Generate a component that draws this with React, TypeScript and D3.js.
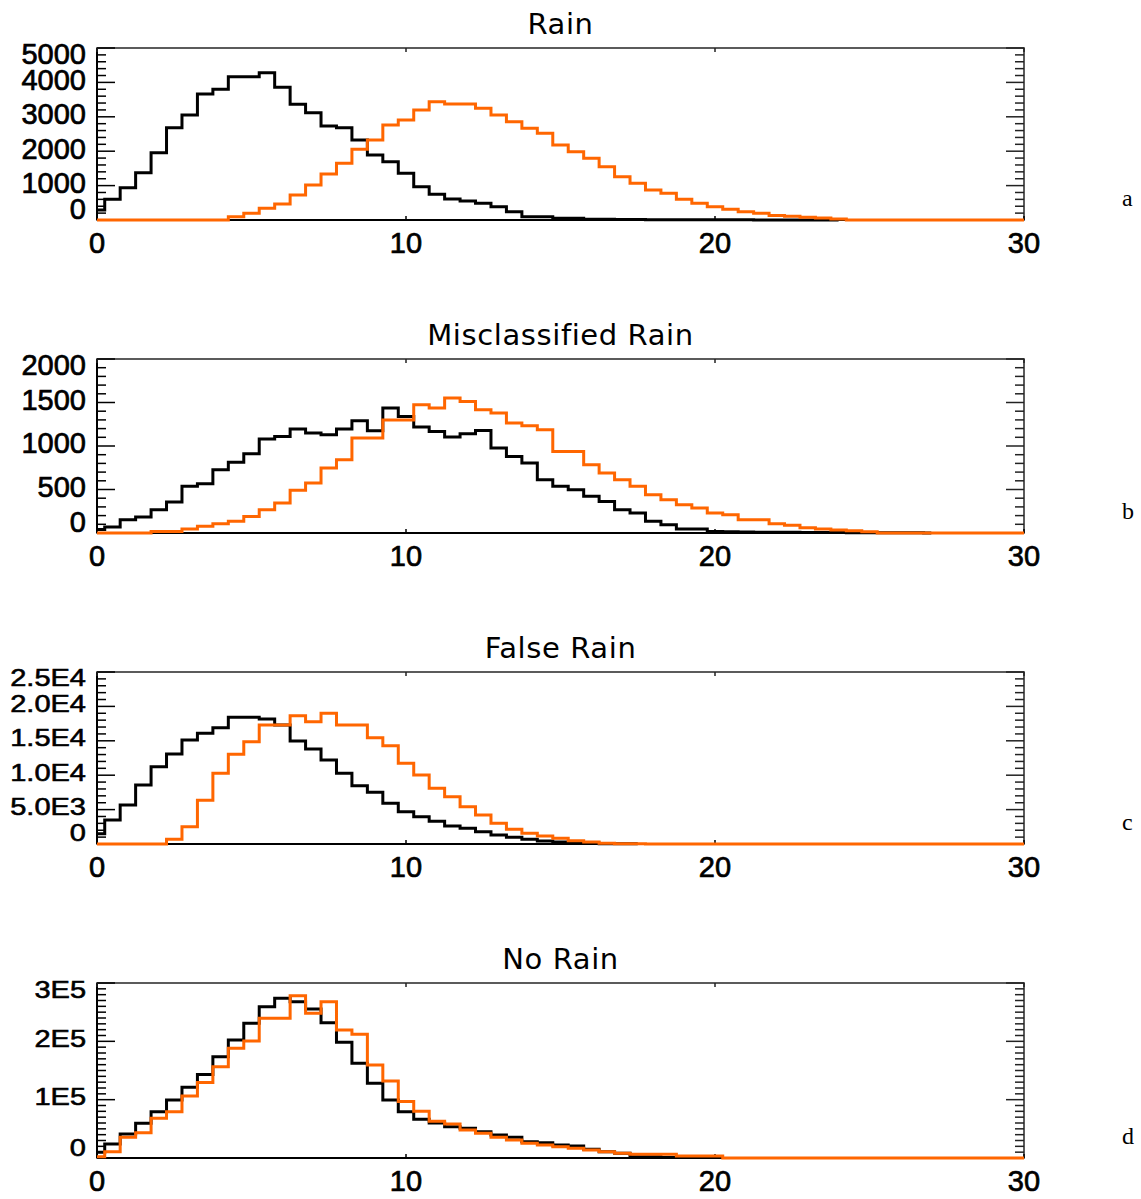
import React from 'react';
import * as d3 from 'd3';

// histogram bins are 0.5 wide, centred on 0, 0.5, 1.0 ...
const BIN_WIDTH = 0.5;

const panelTitles = ['Rain', 'Misclassified Rain', 'False Rain', 'No Rain'];
const panelLetters = ['a', 'b', 'c', 'd'];
const xTicks = [0, 10, 20, 30];

// black = reference, orange = retrieved
const rainBlack = [
  290, 600, 940, 1375, 1957, 2684, 3052, 3663, 3800, 4166, 4166, 4283, 3857, 3362, 3120, 2733,
  2684, 2326, 1890, 1695, 1357, 969, 746, 610, 552, 484, 388, 242, 97, 97, 48, 48,
  25, 20, 15, 12, 10, 8, 6, 5, 5, 4, 4, 3, 3, 2, 2, 2, 1,
];
const rainOrange = [
  0, 0, 0, 0, 0, 0, 0, 0, 0, 97, 194, 339, 465, 727, 1017, 1337,
  1647, 2054, 2326, 2762, 2907, 3198, 3440, 3372, 3372, 3246, 3052, 2858, 2665, 2520, 2180, 1986,
  1793, 1550, 1259, 1066, 872, 776, 601, 484, 388, 310, 242, 194, 130, 110, 80, 60,
  30, 0, 0, 0, 0, 0, 0, 0, 0, 0, 0, 0, 0,
];

const misBlack = [
  40, 69, 153, 184, 268, 356, 536, 567, 728, 812, 911, 1080, 1110, 1195, 1149, 1130,
  1195, 1290, 1175, 1436, 1340, 1218, 1168, 1103, 1141, 1179, 977, 880, 804, 612, 536, 498,
  421, 363, 268, 230, 134, 96, 46, 46, 18, 15, 12, 10, 8, 8, 6, 5,
  5, 4, 3, 3, 2, 2, 1,
];
const misOrange = [
  0, 0, 0, 0, 18, 18, 46, 77, 107, 134, 191, 268, 345, 490, 574, 747,
  842, 1091, 1091, 1300, 1300, 1474, 1436, 1551, 1512, 1417, 1379, 1264, 1233, 1187, 938, 938,
  785, 689, 612, 536, 440, 383, 325, 287, 230, 210, 153, 153, 107, 90, 60, 45,
  35, 25, 15, 0, 0, 0, 0, 0, 0, 0, 0, 0, 0,
];

const falseBlack = [
  1500, 3490, 5670, 8580, 11240, 13080, 15120, 16090, 16905, 18410, 18410, 18170, 17300, 14970, 13810, 12210,
  10270, 8480, 7510, 5910, 4700, 3970, 3300, 2616, 2277, 1793, 1308, 969, 678, 436, 290, 100,
  100, 50, 50, 20,
];
const falseOrange = [
  0, 0, 0, 0, 0, 680, 2520, 6350, 10270, 13030, 14870, 17300, 17300, 18650, 17780, 19000,
  17300, 17300, 15450, 14290, 11730, 10030, 8090, 6880, 5430, 4215, 3000, 2130, 1550, 1163, 824, 484,
  290, 100, 50, 50, 0, 0, 0, 0, 0, 0, 0, 0, 0, 0, 0, 0,
  0, 0, 0, 0, 0, 0, 0, 0, 0, 0, 0, 0, 0,
];

const noBlack = [
  10000, 24000, 41100, 59400, 79400, 99400, 121200, 143000, 173700, 202300, 230900, 259400, 273800, 268000, 255400, 232000,
  198300, 162300, 128000, 99400, 79400, 66300, 60000, 53700, 50900, 45100, 39400, 35400, 28000, 26300, 22300, 20600,
  14900, 10900, 8000, 2300, 2300, 1000, 1000, 1000, 1000,
];
const noOrange = [
  2000, 10800, 35400, 43400, 68000, 79400, 106300, 129400, 156600, 188000, 200600, 239400, 239400, 278300, 248000, 268000,
  219400, 212000, 159400, 132000, 97000, 80000, 63000, 58300, 48000, 42300, 35400, 30900, 25100, 22300, 19400, 16600,
  13700, 10800, 8000, 6300, 6300, 6300, 3400, 3400, 3400, 0, 0, 0, 0, 0, 0, 0,
  0, 0, 0, 0, 0, 0, 0, 0, 0, 0, 0, 0, 0,
];

const blackSeries = [rainBlack, misBlack, falseBlack, noBlack];
const orangeSeries = [rainOrange, misOrange, falseOrange, noOrange];

const yMaxes = [5000, 2000, 25000, 300000];
const yMajorSteps = [1000, 500, 5000, 100000];
const yMinorSteps = [200, 100, 1000, 10000];
const yTickLabels = [
  ['0', '1000', '2000', '3000', '4000', '5000'],
  ['0', '500', '1000', '1500', '2000'],
  ['0', '5.0E3', '1.0E4', '1.5E4', '2.0E4', '2.5E4'],
  ['0', '1E5', '2E5', '3E5'],
];

// layout
const WIDTH = 1141;
const HEIGHT = 1199;
const X_LEFT = 97;
const X_RIGHT = 1024;
const panelTops = [48, 359, 672, 983];
const panelHeights = [172, 174, 172, 175];
const labelScaleY = [1, 1, 0.8, 0.82];
const ORANGE = '#ff6600';
const NUM_FONT = '"Liberation Sans", Arial, sans-serif';
const TITLE_FONT = '"DejaVu Sans", Verdana, sans-serif';

const Panel = ({ index }: { index: number }) => {
  const top = panelTops[index];
  const bottom = top + panelHeights[index];
  const yMax = yMaxes[index];

  const x = d3.scaleLinear().domain([0, 30]).range([X_LEFT, X_RIGHT]);
  const y = d3.scaleLinear().domain([0, yMax]).range([bottom, top]);

  const line = d3
    .line<number>()
    .x((d, i) => x(i * BIN_WIDTH))
    .y((d) => y(d))
    .curve(d3.curveStep);

  const majors = d3.range(0, yMax + 1e-6, yMajorSteps[index]);
  const minors = d3
    .range(0, yMax + 1e-6, yMinorSteps[index])
    .filter((v) => Math.abs(v / yMajorSteps[index] - Math.round(v / yMajorSteps[index])) > 1e-6);

  const labels = yTickLabels[index];
  const sy = labelScaleY[index];

  return (
    <g>
      <text
        x={(X_LEFT + X_RIGHT) / 2}
        y={top - 14}
        textAnchor="middle"
        fontFamily={TITLE_FONT}
        fontSize={29}
        letterSpacing={0.6}
        fill="#000"
      >
        {panelTitles[index]}
      </text>

      {/* frame */}
      <rect x={X_LEFT} y={top} width={X_RIGHT - X_LEFT} height={bottom - top} fill="none" stroke="#333" strokeWidth={1.6} />
      <line x1={X_LEFT} x2={X_LEFT} y1={top} y2={bottom} stroke="#000" strokeWidth={2} />
      <line x1={X_LEFT} x2={X_RIGHT} y1={bottom} y2={bottom} stroke="#000" strokeWidth={2} />

      {/* y ticks, both sides */}
      {minors.map((v) => (
        <g key={'mi' + v}>
          <line x1={X_LEFT} x2={X_LEFT + 9} y1={y(v)} y2={y(v)} stroke="#000" strokeWidth={1.5} />
          <line x1={X_RIGHT} x2={X_RIGHT - 9} y1={y(v)} y2={y(v)} stroke="#222" strokeWidth={1.5} />
        </g>
      ))}
      {majors.map((v) => (
        <g key={'ma' + v}>
          <line x1={X_LEFT} x2={X_LEFT + 18} y1={y(v)} y2={y(v)} stroke="#000" strokeWidth={1.5} />
          <line x1={X_RIGHT} x2={X_RIGHT - 18} y1={y(v)} y2={y(v)} stroke="#222" strokeWidth={1.5} />
        </g>
      ))}
      {majors.map((v, i) => {
        let off = -3;
        if (i === 0) off = -11;
        else if (i === majors.length - 1) off = 6;
        return (
          <text
            key={'yl' + v}
            transform={`translate(${X_LEFT - 11},${y(v) + off}) scale(1,${sy})`}
            dy="0.36em"
            textAnchor="end"
            fontFamily={NUM_FONT}
            fontSize={29}
            fill="#000"
            stroke="#000"
            strokeWidth={0.7}
          >
            {labels[i]}
          </text>
        );
      })}

      {/* x ticks */}
      {xTicks.map((t) => (
        <g key={'xt' + t}>
          <line x1={x(t)} x2={x(t)} y1={bottom} y2={bottom - 4} stroke="#000" strokeWidth={1.5} />
          <line x1={x(t)} x2={x(t)} y1={top} y2={top + 4} stroke="#222" strokeWidth={1.5} />
          <text
            x={x(t)}
            y={bottom + 33}
            textAnchor="middle"
            fontFamily={NUM_FONT}
            fontSize={29}
            fill="#000"
            stroke="#000"
            strokeWidth={0.7}
          >
            {t}
          </text>
        </g>
      ))}

      <path d={line(blackSeries[index]) || ''} fill="none" stroke="#000" strokeWidth={3} />
      <path d={line(orangeSeries[index]) || ''} fill="none" stroke={ORANGE} strokeWidth={3} />

      <text x={1122} y={bottom - 14} fontFamily='"Liberation Serif", "Times New Roman", serif' fontSize={24} fill="#000">
        {panelLetters[index]}
      </text>
    </g>
  );
};

export default function App() {
  return (
    <div style={{ position: 'absolute', left: 0, top: 0 }}>
      <svg width={WIDTH} height={HEIGHT} style={{ display: 'block', background: '#fff' }}>
        {panelTitles.map((t, i) => (
          <Panel key={t} index={i} />
        ))}
      </svg>
    </div>
  );
}
